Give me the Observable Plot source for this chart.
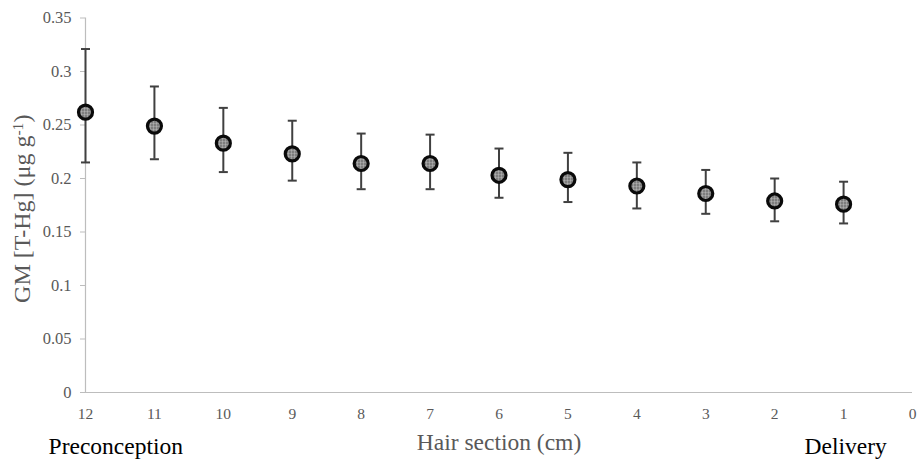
<!DOCTYPE html>
<html>
<head>
<meta charset="utf-8">
<script src="https://cdn.jsdelivr.net/npm/d3@7"></script>
<script src="https://cdn.jsdelivr.net/npm/@observablehq/plot@0.6"></script>
<style>
  html, body { margin: 0; padding: 0; background: #fff; }
  #chart svg { display: block; }
  #chart svg text { font-family: 'Liberation Serif', 'Times New Roman', serif !important; }
</style>
</head>
<body>
<div id="chart"></div>
<script>
// Hair section (cm) from preconception (12) to delivery (1)
const sections = [12, 11, 10, 9, 8, 7, 6, 5, 4, 3, 2, 1];
// Geometric mean T-Hg (µg/g)
const gm    = [0.262, 0.249, 0.233, 0.223, 0.214, 0.214, 0.203, 0.199, 0.193, 0.186, 0.179, 0.176];
const upper = [0.321, 0.286, 0.266, 0.254, 0.242, 0.241, 0.228, 0.224, 0.215, 0.208, 0.200, 0.197];
const lower = [0.215, 0.218, 0.206, 0.198, 0.190, 0.190, 0.182, 0.178, 0.172, 0.167, 0.160, 0.158];
const xTicks = [12, 11, 10, 9, 8, 7, 6, 5, 4, 3, 2, 1, 0];
const yTicks = [0, 0.05, 0.1, 0.15, 0.2, 0.25, 0.3, 0.35];
const xTitle = "Hair section (cm)";
const yTitle = "GM [T-Hg] (μg g-1)";
const annotations = [
  {label: "Preconception", x: 11.56},
  {label: "Delivery", x: 0.97}
];

const data = sections.map((s, i) => ({section: s, gm: gm[i], hi: upper[i], lo: lower[i]}));

const capSymbol = {
  draw(context, size) {
    const w = Math.sqrt(size / Math.PI);
    context.moveTo(-w, 0);
    context.lineTo(w, 0);
  }
};

const font = "'Liberation Serif', 'Times New Roman', serif";
const grey = "#595959";

const plot = Plot.plot({
  width: 919,
  height: 459,
  marginLeft: 85,
  marginRight: 7,
  marginTop: 17.5,
  marginBottom: 67,
  style: {fontFamily: font, background: "#fff"},
  x: {domain: [12, 0], label: null},
  y: {domain: [0, 0.35], label: null},
  marks: [
    Plot.ruleX([12], {stroke: "#bdbdbd", strokeWidth: 1.2}),
    Plot.ruleY([0], {stroke: "#bdbdbd", strokeWidth: 1.2}),
    Plot.axisY({
      ticks: yTicks, tickSize: 5, tickPadding: 9, stroke: "#bdbdbd",
      tickFormat: d => String(+d.toFixed(2)), label: null,
      fontSize: 16.5, fontFamily: font, fill: grey
    }),
    Plot.axisX({
      ticks: xTicks, tickSize: 0, tickPadding: 15, label: null,
      tickFormat: d => String(d), fontSize: 15.5, fontFamily: font, fill: grey
    }),
    Plot.ruleX(data, {x: "section", y1: "lo", y2: "hi", stroke: "#404040", strokeWidth: 2}),
    Plot.dot(data, {x: "section", y: "hi", symbol: capSymbol, r: 4.5, stroke: "#404040", strokeWidth: 2}),
    Plot.dot(data, {x: "section", y: "lo", symbol: capSymbol, r: 4.5, stroke: "#404040", strokeWidth: 2}),
    Plot.dot(data, {x: "section", y: "gm", r: 7, fill: "url(#dotpat)", stroke: "#0a0a0a", strokeWidth: 3.2}),
    Plot.text([xTitle], {text: d => d, frameAnchor: "bottom", dy: 50, textAnchor: "middle", lineAnchor: "middle", fontSize: 23.5, fontFamily: font, fill: grey}),
    Plot.text([yTitle], {text: d => d, frameAnchor: "left", dx: -63, dy: 3.5, rotate: -90, textAnchor: "middle", lineAnchor: "middle", fontSize: 24, fontFamily: font, fill: grey}),
    Plot.text(annotations, {x: "x", text: "label", frameAnchor: "bottom", dy: 54, textAnchor: "middle", lineAnchor: "middle", fontSize: 23.5, fontFamily: font, fill: "#000"})
  ]
});

// pattern for the marker fill
const svg = d3.select(plot);
const defs = svg.insert("defs", ":first-child");
const pat = defs.append("pattern").attr("id", "dotpat").attr("patternUnits", "userSpaceOnUse")
  .attr("width", 3).attr("height", 3);
pat.append("rect").attr("width", 3).attr("height", 3).attr("fill", "#b4b4b4");
pat.append("circle").attr("cx", 1.5).attr("cy", 1.5).attr("r", 0.9).attr("fill", "#3a3a3a");

// serif everywhere
svg.selectAll("g, text").style("font-family", font);

// superscript for the y title
svg.selectAll("text").each(function() {
  if (this.textContent === yTitle) {
    const t = d3.select(this);
    t.text(null);
    t.append("tspan").text("GM [T-Hg] (μg g");
    t.append("tspan").attr("dy", "-0.45em").attr("font-size", "0.65em").text("-1");
    t.append("tspan").attr("dy", "0.3em").text(")");
  }
});

document.getElementById("chart").appendChild(plot);
</script>
</body>
</html>
